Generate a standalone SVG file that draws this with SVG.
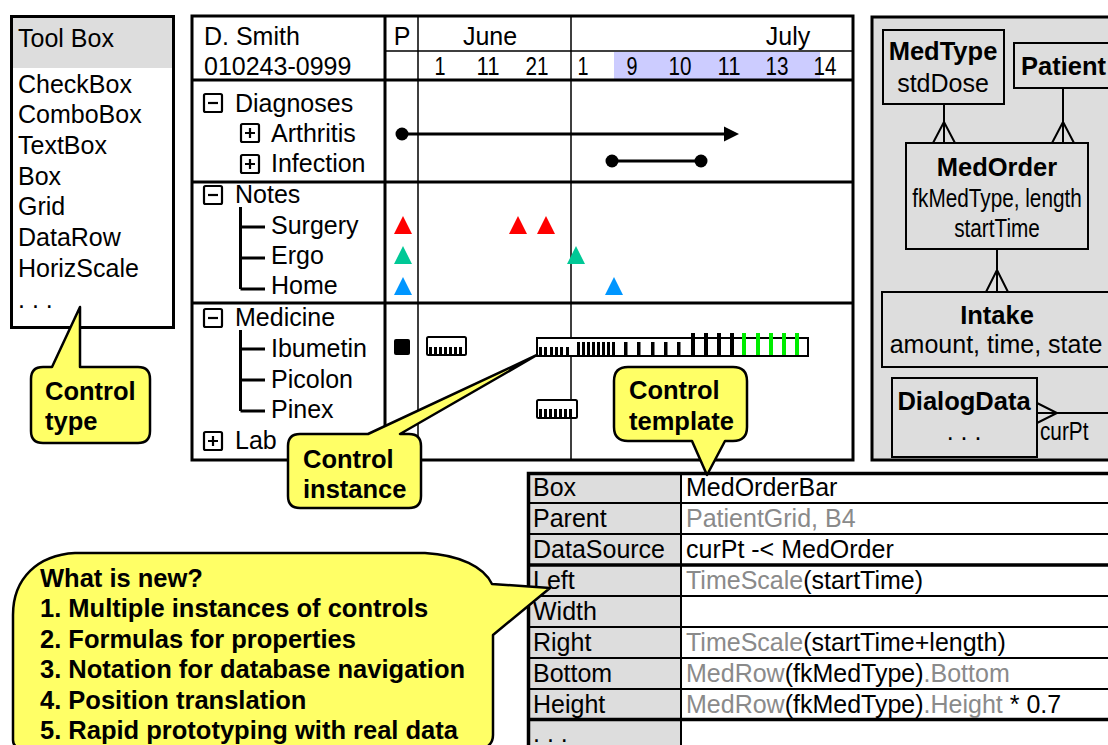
<svg xmlns="http://www.w3.org/2000/svg" width="1108" height="745" viewBox="0 0 1108 745">
<style>
  text { font-family: "Liberation Sans", Arial, Helvetica, sans-serif; font-size: 25px; fill: #000; }
  .b { font-weight: bold; font-size: 25.5px; }
  .g { fill: #8a8a8a; }
  .c { text-anchor: middle; }
  .frame { fill: none; stroke: #000; stroke-width: 3; }
  .thin { stroke: #000; stroke-width: 1.5; fill: none; }
  .thick { stroke: #000; stroke-width: 3; fill: none; }
  .ln { stroke: #000; stroke-width: 2; fill: none; }
  .tree { stroke: #000; stroke-width: 3; fill: none; }
  .bar { fill: #fff; stroke: #000; stroke-width: 2; }
  .ent { fill: #ddd; stroke: #000; stroke-width: 2; }
  .call { fill: #ffff66; stroke: #000; stroke-width: 2.5; stroke-linejoin: round; }
  .tk { fill: #000; }
  .gt { fill: #00ee00; }
</style>
<defs>
  <g id="minus">
    <rect x="0" y="0" width="18" height="18" rx="1.5" fill="#fff" stroke="#000" stroke-width="2.2"/>
    <path d="M4 9H14" stroke="#000" stroke-width="2.2"/>
  </g>
  <g id="plus">
    <rect x="0" y="0" width="18" height="18" rx="1.5" fill="#fff" stroke="#000" stroke-width="2.2"/>
    <path d="M4 9H14M9 4V14" stroke="#000" stroke-width="2.2"/>
  </g>
</defs>

<!-- palette of control types -->
<g id="toolbox">
  <rect x="11" y="16" width="163" height="312" fill="#fff"/>
  <rect x="11" y="16" width="163" height="52" fill="#dddddd"/>
  <rect class="frame" x="11.5" y="16.5" width="162" height="311"/>
  <text x="18" y="47">Tool Box</text>
  <text x="18" y="93">CheckBox</text>
  <text x="18" y="123">ComboBox</text>
  <text x="18" y="154">TextBox</text>
  <text x="18" y="185">Box</text>
  <text x="18" y="215">Grid</text>
  <text x="18" y="246">DataRow</text>
  <text x="18" y="277">HorizScale</text>
  <text x="18" y="308">. . .</text>
</g>

<!-- patient time-line grid -->
<g id="patient-grid">
  <rect x="192" y="16" width="661" height="444" fill="#fff"/>
  <rect x="614" y="52" width="206" height="27" fill="#ccccff"/>
  <path class="thin" d="M385 51H853M418 16V460M571 16V460"/>
  <path class="thick" d="M192 80H853M192 182H853M192 303H853M385 16V460"/>
  <rect class="frame" x="192" y="16" width="661" height="444"/>

  <text x="204" y="45">D. Smith</text>
  <text x="204" y="75">010243-0999</text>
  <text class="c" x="402" y="45">P</text>
  <text class="c" x="490" y="45">June</text>
  <text class="c" x="788" y="45">July</text>
  <text class="c" x="440" y="75" textLength="11" lengthAdjust="spacingAndGlyphs">1</text>
  <text class="c" x="488" y="75" textLength="23" lengthAdjust="spacingAndGlyphs">11</text>
  <text class="c" x="537" y="75" textLength="23" lengthAdjust="spacingAndGlyphs">21</text>
  <text class="c" x="583" y="75" textLength="11" lengthAdjust="spacingAndGlyphs">1</text>
  <text class="c" x="632" y="75" textLength="11" lengthAdjust="spacingAndGlyphs">9</text>
  <text class="c" x="680" y="75" textLength="23" lengthAdjust="spacingAndGlyphs">10</text>
  <text class="c" x="729" y="75" textLength="23" lengthAdjust="spacingAndGlyphs">11</text>
  <text class="c" x="777" y="75" textLength="23" lengthAdjust="spacingAndGlyphs">13</text>
  <text class="c" x="825" y="75" textLength="23" lengthAdjust="spacingAndGlyphs">14</text>

  <!-- Diagnoses -->
  <use href="#minus" x="204" y="94"/>
  <text x="235" y="112">Diagnoses</text>
  <use href="#plus" x="241" y="124"/>
  <text x="271" y="142">Arthritis</text>
  <use href="#plus" x="241" y="155"/>
  <text x="271" y="172">Infection</text>

  <!-- Notes -->
  <use href="#minus" x="204" y="186"/>
  <text x="235" y="203">Notes</text>
  <path class="tree" d="M240.5 207V289M240.5 227H265M240.5 258H265M240.5 289H265"/>
  <text x="271" y="234">Surgery</text>
  <text x="271" y="264">Ergo</text>
  <text x="271" y="294">Home</text>

  <!-- Medicine -->
  <use href="#minus" x="204" y="309"/>
  <text x="235" y="326">Medicine</text>
  <path class="tree" d="M240.5 330V411M240.5 349H265M240.5 380H265M240.5 411H265"/>
  <text x="271" y="357">Ibumetin</text>
  <text x="271" y="388">Picolon</text>
  <text x="271" y="418">Pinex</text>
  <use href="#plus" x="204" y="432"/>
  <text x="235" y="449">Lab</text>
</g>

<!-- diagnosis spans -->
<g id="diagnosis-spans">
  <circle cx="402" cy="134" r="6.5"/>
  <path class="thick" d="M402 134H727"/>
  <path d="M724 126.5L739 134L724 141.5Z"/>
  <circle cx="612" cy="161" r="6.5"/>
  <circle cx="701" cy="161" r="6.5"/>
  <path class="thick" d="M612 161H701"/>
</g>

<!-- note markers -->
<g id="note-markers">
  <path fill="#ff0000" d="M403 216L412 234H394ZM518 216L527 234H509ZM546 216L555 234H537Z"/>
  <path fill="#00c896" d="M403 246L412 264H394ZM576 246L585 264H567Z"/>
  <path fill="#0096ff" d="M403 277L412 295H394ZM614 277L623 295H605Z"/>
</g>

<!-- medication order bars -->
<g id="med-bars">
  <rect x="394" y="339" width="16" height="16" rx="2"/>
  <rect class="bar" x="427" y="337" width="39" height="18" rx="1.5"/>
  <path class="tk" d="M429 347h3v8h-3zM434 347h3v8h-3zM439 347h3v8h-3zM444 347h3v8h-3zM449 347h3v8h-3zM454 347h3v8h-3zM459 347h3v8h-3z"/>

  <rect class="bar" x="537" y="338" width="271" height="18"/>
  <path class="tk" d="M539 347h3v8h-3zM544 347h3v8h-3zM550 347h3v8h-3zM555 347h3v8h-3zM560 347h3v8h-3zM566 347h3v8h-3z"/>
  <path class="tk" d="M577 342h3v13h-3zM582 342h3v13h-3zM587 342h3v13h-3zM592 342h3v13h-3zM597 342h3v13h-3zM602 342h3v13h-3zM607 342h3v13h-3zM612 342h3v13h-3z"/>
  <path class="tk" d="M624 342h3.5v13h-3.5zM637 342h3.5v13h-3.5zM651 342h3.5v13h-3.5zM664 342h3.5v13h-3.5zM677 342h3.5v13h-3.5z"/>
  <path class="tk" d="M691 333h4v22h-4zM704 333h4v22h-4zM717 333h4v22h-4zM730 333h4v22h-4z"/>
  <path class="gt" d="M742 333h4v22h-4zM756 333h4v22h-4zM769 333h4v22h-4zM782 333h4v22h-4zM795 333h4v22h-4z"/>

  <rect class="bar" x="537" y="400" width="40" height="18" rx="1.5"/>
  <path class="tk" d="M539 409h3v8h-3zM544 409h3v8h-3zM549 409h3v8h-3zM554 409h3v8h-3zM559 409h3v8h-3zM564 409h3v8h-3zM569 409h3v8h-3z"/>
</g>

<!-- data model -->
<g id="data-model">
  <rect x="872" y="17" width="240" height="443" fill="#ddd" stroke="#000" stroke-width="3"/>
</g>
<g id="MedType">
  <rect class="ent" x="883" y="30" width="121" height="74"/>
  <text class="b c" x="943" y="60">MedType</text>
  <text class="c" x="943" y="92">stdDose</text>
</g>
<g id="Patient">
  <rect class="ent" x="1014" y="43" width="100" height="45"/>
  <text class="b" x="1021" y="75">Patient</text>
</g>
<g id="MedOrder">
  <rect class="ent" x="906" y="143" width="182" height="106"/>
  <text class="b c" x="997" y="176">MedOrder</text>
  <text class="c" transform="translate(997 207) scale(0.83 1)" x="0" y="0">fkMedType, length</text>
  <text class="c" transform="translate(997 237) scale(0.83 1)" x="0" y="0">startTime</text>
</g>
<g id="Intake">
  <rect class="ent" x="882" y="292" width="230" height="75"/>
  <text class="b c" x="997" y="324">Intake</text>
  <text class="c" x="996" y="353">amount, time, state</text>
</g>
<g id="DialogData">
  <rect class="ent" x="892" y="378" width="145" height="79"/>
  <text class="b c" x="964" y="410">DialogData</text>
  <text class="c" x="964" y="440">. . .</text>
</g>
<g id="relations">
  <path class="ln" d="M944 104V143M933 143L944 122L955 143"/>
  <path class="ln" d="M1063 88V143M1052 143L1063 122L1074 143"/>
  <path class="ln" d="M997 249V292M986 292L997 270L1008 292"/>
  <path class="ln" d="M1037 403L1057 413L1037 423M1037 413H1110"/>
  <text transform="translate(1040 440) scale(0.83 1)" x="0" y="0">curPt</text>
</g>

<!-- property sheet of the bar control -->
<g id="property-table">
  <rect x="527" y="472" width="590" height="280" fill="#fff"/>
  <rect x="527" y="472" width="154" height="280" fill="#dddddd"/>
  <path class="ln" d="M527 503H1110M527 534H1110M527 596H1110M527 627H1110M527 658H1110M527 689H1110M681 472V745"/>
  <path stroke="#000" stroke-width="3.5" d="M527 565H1110M527 719.5H1110"/>
  <path stroke="#000" stroke-width="3.5" fill="none" d="M1110 473.5H528.5V745"/>
  <text x="533" y="496">Box</text>
  <text x="533" y="527">Parent</text>
  <text x="533" y="558">DataSource</text>
  <text x="533" y="589">Left</text>
  <text x="533" y="620">Width</text>
  <text x="533" y="651">Right</text>
  <text x="533" y="682">Bottom</text>
  <text x="533" y="713">Height</text>
  <text x="533" y="742">. . .</text>
  <text x="686" y="496">MedOrderBar</text>
  <text x="686" y="527" class="g">PatientGrid, B4</text>
  <text x="686" y="558">curPt -&lt; MedOrder</text>
  <text x="686" y="589"><tspan class="g">TimeScale</tspan>(startTime)</text>
  <text x="686" y="651"><tspan class="g">TimeScale</tspan>(startTime+length)</text>
  <text x="686" y="682"><tspan class="g">MedRow</tspan>(fkMedType)<tspan class="g">.Bottom</tspan></text>
  <text x="686" y="713"><tspan class="g">MedRow</tspan>(fkMedType)<tspan class="g">.Height</tspan> * 0.7</text>
</g>

<!-- callouts -->
<g id="callout-control-type">
  <path class="call" d="M43 367H52L80 307V367H138Q150 367 150 379V431Q150 443 138 443H43Q31 443 31 431V379Q31 367 43 367Z"/>
  <text class="b" x="45" y="400">Control</text>
  <text class="b" x="45" y="430">type</text>
</g>
<g id="callout-control-instance">
  <path class="call" d="M300 434H368L537 355L400 434H409Q421 434 421 446V496Q421 508 409 508H300Q288 508 288 496V446Q288 434 300 434Z"/>
  <text class="b" x="303" y="468">Control</text>
  <text class="b" x="303" y="498">instance</text>
</g>
<g id="callout-control-template">
  <path class="call" d="M628 367H733Q747 367 747 381V427Q747 441 733 441H725L707 475L692 441H628Q614 441 614 427V381Q614 367 628 367Z"/>
  <text class="b" x="629" y="399">Control</text>
  <text class="b" x="629" y="430">template</text>
</g>
<g id="callout-whats-new">
  <path class="call" d="M13 740V615C13 578 38 555 75 553H425C460 555 484 567 492 584L550 588L493 635V735C493 745 485 750 475 750H30C20 750 13 748 13 740Z"/>
  <text class="b" x="40" y="587">What is new?</text>
  <text class="b" x="40" y="617">1. Multiple instances of controls</text>
  <text class="b" x="40" y="648">2. Formulas for properties</text>
  <text class="b" x="40" y="678">3. Notation for database navigation</text>
  <text class="b" x="40" y="709">4. Position translation</text>
  <text class="b" x="40" y="739">5. Rapid prototyping with real data</text>
</g>
</svg>
